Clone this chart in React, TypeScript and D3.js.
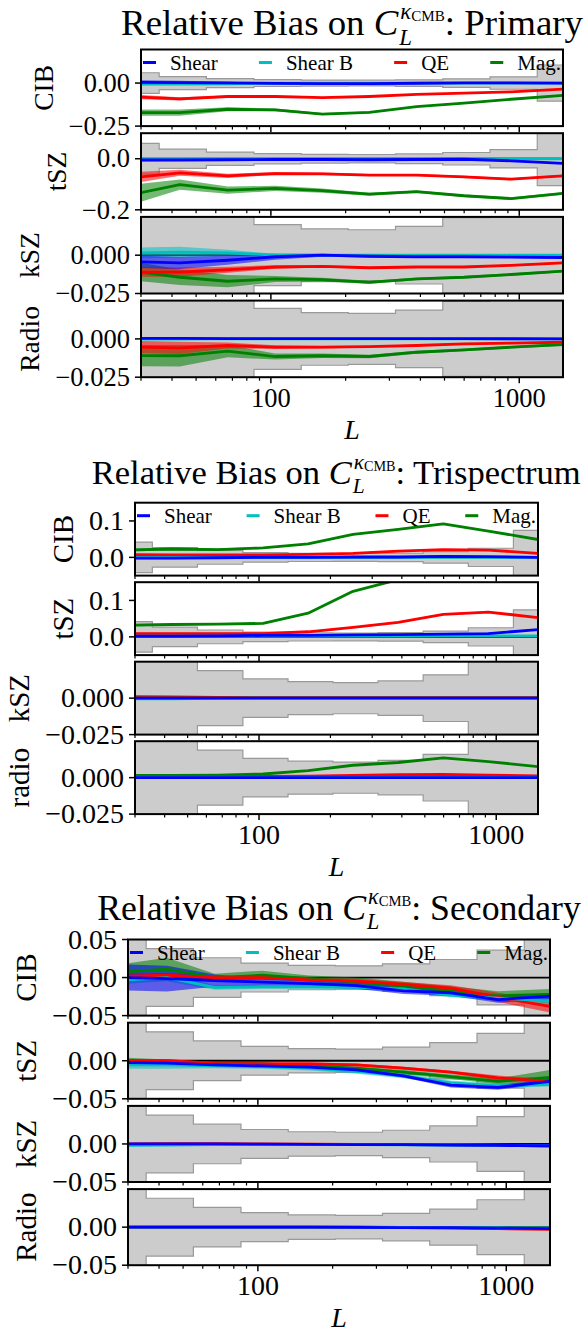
import React from "react";
import * as d3 from "d3";

// multipole bins
const L_CENTERS = [30, 43, 67, 104, 161, 249, 386, 598, 927, 1500];
const BIN_EDGES = [30, 35.5, 55, 85.5, 132.5, 205, 317.5, 492, 762.5, 1181.5, 1500];
const X_MAJOR = [100, 1000];
const X_MINOR = [30, 40, 50, 60, 70, 80, 90, 200, 300, 400, 500, 600, 700, 800, 900];

const ESTIMATORS = ["Shear", "Shear B", "QE", "Mag."];
const COLORS = ["#0000ff", "#00bfbf", "#ff0000", "#008000"];

// statistical error (grey band)
const SIGMA_PRIMARY = [0.06, 0.038, 0.026, 0.0199, 0.0172, 0.0166, 0.0188, 0.0245, 0.036, 0.105];
const SIGMA_TRISPECTRUM = [0.042, 0.027, 0.0189, 0.0132, 0.0113, 0.0107, 0.0118, 0.016, 0.025, 0.074];
const SIGMA_SECONDARY = [0.06, 0.038, 0.026, 0.019, 0.016, 0.0154, 0.018, 0.0237, 0.036, 0.105];

// rows: Shear, Shear B, QE, Mag.
const PRIMARY_CIB = [
  [0.004, 0.003, 0.001, -0.002, -0.003, -0.003, -0.001, 0.001, 0.001, 0.0],
  [-0.006, -0.006, -0.004, -0.001, 0.0, 0.0, 0.0, 0.0, 0.0, 0.0],
  [-0.082, -0.092, -0.078, -0.078, -0.084, -0.078, -0.066, -0.059, -0.051, -0.035],
  [-0.172, -0.172, -0.152, -0.156, -0.18, -0.17, -0.137, -0.117, -0.094, -0.072],
];
const PRIMARY_CIB_ERR = [
  [0.012, 0.01, 0.006, 0.004, 0.003, 0.003, 0.003, 0.003, 0.003, 0.003],
  [0.006, 0.005, 0.004, 0.003, 0.002, 0.002, 0.002, 0.002, 0.002, 0.002],
  [0.012, 0.01, 0.006, 0.004, 0.003, 0.003, 0.003, 0.003, 0.003, 0.003],
  [0.018, 0.018, 0.012, 0.008, 0.006, 0.005, 0.004, 0.004, 0.004, 0.004],
];
const PRIMARY_TSZ = [
  [-0.005, -0.005, -0.004, -0.003, -0.003, -0.004, -0.003, -0.002, -0.008, -0.018],
  [-0.002, -0.002, -0.001, 0.0, 0.0, 0.0, 0.0, 0.0, 0.0, 0.0],
  [-0.071, -0.055, -0.067, -0.058, -0.059, -0.064, -0.064, -0.071, -0.08, -0.067],
  [-0.133, -0.101, -0.123, -0.116, -0.125, -0.139, -0.129, -0.145, -0.156, -0.136],
];
const PRIMARY_TSZ_ERR = [
  [0.005, 0.004, 0.003, 0.003, 0.002, 0.002, 0.002, 0.002, 0.002, 0.003],
  [0.004, 0.003, 0.002, 0.002, 0.002, 0.002, 0.002, 0.002, 0.002, 0.002],
  [0.02, 0.012, 0.008, 0.006, 0.005, 0.004, 0.004, 0.004, 0.004, 0.004],
  [0.035, 0.02, 0.014, 0.01, 0.008, 0.006, 0.005, 0.005, 0.005, 0.005],
];
const PRIMARY_KSZ = [
  [-0.0044, -0.005, -0.0033, -0.001, 0.0, -0.0007, -0.001, -0.001, -0.0012, -0.0015],
  [0.0015, 0.002, 0.0015, 0.0, 0.0, 0.0, 0.0, 0.0, 0.0, 0.0],
  [-0.011, -0.011, -0.0095, -0.0077, -0.0073, -0.0082, -0.0077, -0.0077, -0.0066, -0.005],
  [-0.011, -0.0144, -0.017, -0.0155, -0.016, -0.0177, -0.0155, -0.0144, -0.0126, -0.0104],
];
const PRIMARY_KSZ_ERR = [
  [0.004, 0.004, 0.003, 0.002, 0.001, 0.0008, 0.0006, 0.0006, 0.0006, 0.0006],
  [0.0035, 0.0035, 0.002, 0.001, 0.0006, 0.0005, 0.0005, 0.0005, 0.0005, 0.0005],
  [0.003, 0.003, 0.002, 0.0012, 0.0008, 0.0007, 0.0006, 0.0006, 0.0006, 0.0006],
  [0.006, 0.005, 0.004, 0.002, 0.0012, 0.001, 0.0008, 0.0008, 0.0008, 0.0008],
];
const PRIMARY_RADIO = [
  [0.0003, 0.0003, 0.0002, 0.0002, 0.0002, 0.0002, 0.0002, 0.0002, 0.0001, 0.0],
  [0.0, 0.0, 0.0, 0.0, 0.0, 0.0, 0.0, 0.0, 0.0, 0.0],
  [-0.0054, -0.0059, -0.0043, -0.0054, -0.0054, -0.005, -0.0043, -0.0033, -0.0028, -0.0022],
  [-0.0109, -0.011, -0.008, -0.0115, -0.011, -0.0115, -0.0087, -0.0072, -0.0054, -0.0037],
];
const PRIMARY_RADIO_ERR = [
  [0.001, 0.001, 0.0006, 0.0004, 0.0003, 0.0003, 0.0003, 0.0003, 0.0003, 0.0003],
  [0.001, 0.001, 0.0006, 0.0004, 0.0003, 0.0003, 0.0003, 0.0003, 0.0003, 0.0003],
  [0.004, 0.004, 0.002, 0.0012, 0.0008, 0.0006, 0.0005, 0.0005, 0.0005, 0.0005],
  [0.007, 0.007, 0.004, 0.002, 0.0015, 0.0012, 0.001, 0.0008, 0.0008, 0.0008],
];

const TRI_CIB = [
  [-0.002, -0.002, -0.001, 0.0, 0.0, 0.001, 0.001, 0.003, 0.002, 0.0],
  [0.0, 0.0, 0.0, 0.0, 0.0, 0.0, 0.0, 0.0, 0.0, 0.0],
  [0.0075, 0.007, 0.007, 0.007, 0.008, 0.011, 0.017, 0.021, 0.02, 0.011],
  [0.0206, 0.023, 0.0215, 0.026, 0.037, 0.063, 0.077, 0.092, 0.072, 0.049],
];
const TRI_CIB_ERR = [
  [0.003, 0.003, 0.002, 0.002, 0.002, 0.002, 0.002, 0.002, 0.002, 0.002],
  [0.002, 0.002, 0.002, 0.002, 0.002, 0.002, 0.002, 0.002, 0.002, 0.002],
  [0.002, 0.002, 0.002, 0.002, 0.002, 0.002, 0.002, 0.002, 0.002, 0.002],
  [0.004, 0.004, 0.003, 0.002, 0.002, 0.002, 0.002, 0.002, 0.002, 0.002],
];
const TRI_TSZ = [
  [0.002, 0.002, 0.003, 0.004, 0.004, 0.0055, 0.006, 0.0074, 0.009, 0.02],
  [0.002, 0.002, 0.002, 0.002, 0.002, 0.002, 0.002, 0.003, 0.003, 0.003],
  [0.009, 0.009, 0.009, 0.009, 0.014, 0.026, 0.04, 0.062, 0.068, 0.053],
  [0.032, 0.034, 0.035, 0.037, 0.065, 0.125, 0.157, 0.2, 0.22, 0.2],
];
const TRI_TSZ_ERR = [
  [0.002, 0.002, 0.002, 0.002, 0.002, 0.002, 0.002, 0.002, 0.002, 0.002],
  [0.002, 0.002, 0.002, 0.002, 0.002, 0.002, 0.002, 0.002, 0.002, 0.002],
  [0.002, 0.002, 0.002, 0.002, 0.002, 0.002, 0.002, 0.002, 0.002, 0.002],
  [0.003, 0.003, 0.002, 0.002, 0.002, 0.002, 0.002, 0.002, 0.002, 0.002],
];
const TRI_KSZ = [
  [0.0, 0.0, 0.0, 0.0, 0.0, 0.0, 0.0, 0.0, 0.0, 0.0],
  [-0.0005, -0.0004, -0.0002, 0.0, 0.0, 0.0, 0.0, 0.0, 0.0, 0.0],
  [0.0003, 0.0003, 0.0003, 0.0003, 0.0003, 0.0003, 0.0003, 0.0003, 0.0003, 0.0003],
  [0.001, 0.0008, 0.0006, 0.0005, 0.0005, 0.0005, 0.0005, 0.0005, 0.0005, 0.0005],
];
const TRI_KSZ_ERR = [
  [0.0005, 0.0005, 0.0004, 0.0003, 0.0003, 0.0003, 0.0003, 0.0003, 0.0003, 0.0003],
  [0.0006, 0.0005, 0.0004, 0.0003, 0.0003, 0.0003, 0.0003, 0.0003, 0.0003, 0.0003],
  [0.0003, 0.0003, 0.0003, 0.0003, 0.0003, 0.0003, 0.0003, 0.0003, 0.0003, 0.0003],
  [0.0004, 0.0004, 0.0003, 0.0003, 0.0003, 0.0003, 0.0003, 0.0003, 0.0003, 0.0003],
];
const TRI_RADIO = [
  [0.0, 0.0, 0.0, 0.0, 0.0, 0.0, 0.0, 0.0, 0.0, 0.0],
  [0.0, 0.0, 0.0, 0.0, 0.0, 0.0, 0.0, 0.0, 0.0, 0.0],
  [0.0007, 0.0008, 0.0008, 0.0009, 0.0011, 0.0016, 0.002, 0.0023, 0.0018, 0.0012],
  [0.0016, 0.0016, 0.0018, 0.0025, 0.0048, 0.0085, 0.0104, 0.0135, 0.011, 0.0076],
];
const TRI_RADIO_ERR = [
  [0.0003, 0.0003, 0.0003, 0.0003, 0.0003, 0.0003, 0.0003, 0.0003, 0.0003, 0.0003],
  [0.0003, 0.0003, 0.0003, 0.0003, 0.0003, 0.0003, 0.0003, 0.0003, 0.0003, 0.0003],
  [0.0003, 0.0003, 0.0003, 0.0003, 0.0003, 0.0003, 0.0003, 0.0003, 0.0003, 0.0003],
  [0.0004, 0.0004, 0.0003, 0.0003, 0.0003, 0.0003, 0.0003, 0.0003, 0.0003, 0.0003],
];

const SEC_CIB = [
  [0.0, -0.0014, -0.004, -0.006, -0.008, -0.0106, -0.0175, -0.02, -0.029, -0.0245],
  [-0.003, 0.0, -0.013, -0.012, -0.012, -0.013, -0.015, -0.023, -0.027, -0.031],
  [0.002, 0.003, 0.0, 0.0, -0.003, -0.0046, -0.009, -0.014, -0.026, -0.038],
  [0.0078, 0.011, 0.0, 0.003, -0.0014, -0.006, -0.0115, -0.0175, -0.024, -0.022],
];
const SEC_CIB_ERR = [
  [0.017, 0.017, 0.008, 0.005, 0.004, 0.004, 0.004, 0.004, 0.004, 0.004],
  [0.005, 0.005, 0.003, 0.003, 0.003, 0.003, 0.003, 0.003, 0.003, 0.003],
  [0.003, 0.003, 0.002, 0.002, 0.002, 0.003, 0.003, 0.004, 0.006, 0.008],
  [0.011, 0.015, 0.005, 0.006, 0.004, 0.006, 0.006, 0.006, 0.006, 0.007],
];
const SEC_TSZ = [
  [-0.0025, -0.003, -0.0055, -0.0068, -0.0085, -0.012, -0.02, -0.032, -0.035, -0.027],
  [-0.0055, -0.0055, -0.0068, -0.0076, -0.0098, -0.014, -0.02, -0.029, -0.033, -0.031],
  [0.0, 0.0, -0.0034, -0.004, -0.004, -0.0055, -0.0098, -0.015, -0.0225, -0.027],
  [0.0, -0.0013, -0.0034, -0.004, -0.0068, -0.0098, -0.015, -0.021, -0.027, -0.022],
];
const SEC_TSZ_ERR = [
  [0.003, 0.003, 0.002, 0.002, 0.002, 0.002, 0.002, 0.003, 0.003, 0.003],
  [0.005, 0.005, 0.003, 0.003, 0.003, 0.003, 0.003, 0.003, 0.003, 0.003],
  [0.002, 0.002, 0.002, 0.002, 0.002, 0.002, 0.002, 0.002, 0.003, 0.003],
  [0.004, 0.003, 0.002, 0.002, 0.002, 0.002, 0.003, 0.003, 0.004, 0.01],
];
const SEC_KSZ = [
  [0.0, 0.0, 0.0, -0.0003, -0.0005, -0.0008, -0.001, -0.0015, -0.002, -0.0022],
  [-0.002, -0.0015, -0.001, -0.0008, -0.0008, -0.001, -0.0012, -0.0015, -0.002, -0.002],
  [0.0, 0.0003, 0.0003, 0.0, -0.0003, -0.0005, -0.0008, -0.001, -0.0015, -0.003],
  [-0.0005, -0.0005, -0.0005, -0.0005, -0.0005, -0.0008, -0.001, -0.0012, -0.0015, -0.002],
];
const SEC_KSZ_ERR = [
  [0.001, 0.001, 0.0008, 0.0006, 0.0006, 0.0006, 0.0006, 0.0006, 0.0006, 0.0006],
  [0.0012, 0.001, 0.0008, 0.0006, 0.0006, 0.0006, 0.0006, 0.0006, 0.0006, 0.0006],
  [0.0006, 0.0006, 0.0006, 0.0006, 0.0006, 0.0006, 0.0006, 0.0006, 0.0006, 0.0006],
  [0.0006, 0.0006, 0.0006, 0.0006, 0.0006, 0.0006, 0.0006, 0.0006, 0.0006, 0.0006],
];
const SEC_RADIO = [
  [0.0, 0.0, 0.0, 0.0, 0.0, -0.0003, -0.0005, -0.0008, -0.0012, -0.002],
  [0.0, 0.0, 0.0, 0.0, 0.0, 0.0, -0.0003, -0.0005, -0.0008, -0.001],
  [0.0, 0.0, 0.0, 0.0, 0.0, 0.0, -0.0005, -0.001, -0.002, -0.003],
  [0.0, 0.0, 0.0, 0.0, 0.0, 0.0, -0.0003, -0.0006, -0.001, -0.0015],
];
const SEC_RADIO_ERR = [
  [0.0006, 0.0006, 0.0005, 0.0005, 0.0005, 0.0005, 0.0005, 0.0005, 0.0005, 0.0005],
  [0.0006, 0.0006, 0.0005, 0.0005, 0.0005, 0.0005, 0.0005, 0.0005, 0.0005, 0.0005],
  [0.0005, 0.0005, 0.0005, 0.0005, 0.0005, 0.0005, 0.0005, 0.0005, 0.0005, 0.0005],
  [0.0005, 0.0005, 0.0005, 0.0005, 0.0005, 0.0005, 0.0005, 0.0005, 0.0005, 0.0005],
];

const FONT = "'Liberation Serif', 'DejaVu Serif', serif";
const LEGEND_FS = 21;

const FIGURES = [
  {
    title: "Primary", sigma: SIGMA_PRIMARY, tickFs: 26.5, titleW: 462,
    left: 141, right: 563, top: 49.5, rowH: 76.6, gap: 7.1, titleY: 35,
    rows: [
      { label: "CIB", ylim: [-0.25, 0.195], ticks: [-0.25, 0], fmt: ".2f", values: PRIMARY_CIB, errors: PRIMARY_CIB_ERR },
      { label: "tSZ", ylim: [-0.2, 0.1], ticks: [-0.2, 0], fmt: ".1f", values: PRIMARY_TSZ, errors: PRIMARY_TSZ_ERR },
      { label: "kSZ", ylim: [-0.025, 0.025], ticks: [-0.025, 0], fmt: ".3f", values: PRIMARY_KSZ, errors: PRIMARY_KSZ_ERR },
      { label: "Radio", ylim: [-0.025, 0.025], ticks: [-0.025, 0], fmt: ".3f", values: PRIMARY_RADIO, errors: PRIMARY_RADIO_ERR },
    ],
  },
  {
    title: "Trispectrum", sigma: SIGMA_TRISPECTRUM, tickFs: 28, titleW: 490,
    left: 135, right: 538, top: 502.7, rowH: 72.9, gap: 6.6, titleY: 484,
    rows: [
      { label: "CIB", ylim: [-0.05, 0.15], ticks: [0, 0.1], fmt: ".1f", values: TRI_CIB, errors: TRI_CIB_ERR },
      { label: "tSZ", ylim: [-0.05, 0.15], ticks: [0, 0.1], fmt: ".1f", values: TRI_TSZ, errors: TRI_TSZ_ERR },
      { label: "kSZ", ylim: [-0.025, 0.025], ticks: [-0.025, 0], fmt: ".3f", values: TRI_KSZ, errors: TRI_KSZ_ERR },
      { label: "radio", ylim: [-0.025, 0.025], ticks: [-0.025, 0], fmt: ".3f", values: TRI_RADIO, errors: TRI_RADIO_ERR },
    ],
  },
  {
    title: "Secondary", sigma: SIGMA_SECONDARY, tickFs: 28, titleW: 484,
    left: 128, right: 550, top: 939.5, rowH: 76.1, gap: 7.1, titleY: 920,
    rows: [
      { label: "CIB", ylim: [-0.05, 0.05], ticks: [-0.05, 0, 0.05], fmt: ".2f", values: SEC_CIB, errors: SEC_CIB_ERR },
      { label: "tSZ", ylim: [-0.05, 0.05], ticks: [-0.05, 0], fmt: ".2f", values: SEC_TSZ, errors: SEC_TSZ_ERR },
      { label: "kSZ", ylim: [-0.05, 0.05], ticks: [-0.05, 0], fmt: ".2f", values: SEC_KSZ, errors: SEC_KSZ_ERR },
      { label: "Radio", ylim: [-0.05, 0.05], ticks: [-0.05, 0], fmt: ".2f", values: SEC_RADIO, errors: SEC_RADIO_ERR },
    ],
  },
];

let ctx: CanvasRenderingContext2D | null = null;
function textWidth(s: string, size: number, style = "") {
  if (!ctx) ctx = document.createElement("canvas").getContext("2d");
  if (!ctx) return s.length * size * 0.5;
  ctx.font = `${style} ${size}px 'Liberation Serif'`;
  return ctx.measureText(s).width;
}

const Legend = ({ left, right, y }) => {
  const handleLen = 13;
  const textPad = 14;
  const pad = 2;
  const widths = ESTIMATORS.map((e) => handleLen + textPad + textWidth(e, LEGEND_FS));
  const gapW = (right - left - 2 * pad - d3.sum(widths)) / (ESTIMATORS.length - 1);
  let x = left + pad;
  return (
    <g>
      {ESTIMATORS.map((e, i) => {
        const x0 = x;
        x += widths[i] + gapW;
        return (
          <g key={e}>
            <line x1={x0} x2={x0 + handleLen} y1={y} y2={y} stroke={COLORS[i]} strokeWidth={3} />
            <text x={x0 + handleLen + textPad} y={y + 7} fontSize={LEGEND_FS} fontFamily={FONT}>{e}</text>
          </g>
        );
      })}
    </g>
  );
};

const Row = ({ fig, row, idx, fi }) => {
  const y0 = fig.top + idx * (fig.rowH + fig.gap);
  const y1 = y0 + fig.rowH;
  const x = d3.scaleLog().domain([30, 1500]).range([fig.left, fig.right]);
  const y = d3.scaleLinear().domain(row.ylim).range([y1, y0]);
  const clipId = `clip-${fi}-${idx}`;
  const tfs = fig.tickFs;

  const steps = BIN_EDGES.map((e, k) => ({ L: e, s: fig.sigma[Math.min(k, fig.sigma.length - 1)] }));
  const sigArea = d3.area<any>().x((d) => x(d.L)).y0((d) => y(-d.s)).y1((d) => y(d.s)).curve(d3.curveStepAfter);
  const sigTop = d3.line<any>().x((d) => x(d.L)).y((d) => y(d.s)).curve(d3.curveStepAfter);
  const sigBot = d3.line<any>().x((d) => x(d.L)).y((d) => y(-d.s)).curve(d3.curveStepAfter);

  const band = (vals, errs) =>
    d3.area<number>()
      .x((_, k) => x(L_CENTERS[k]))
      .y0((v, k) => y(v - errs[k]))
      .y1((v, k) => y(v + errs[k]))(vals);
  const line = d3.line<number>().x((_, k) => x(L_CENTERS[k])).y((v) => y(v));

  const fmt = d3.format(row.fmt);
  const labels = row.ticks.map((t) => fmt(t));
  const maxW = d3.max(labels, (s) => textWidth(s, tfs));
  const labelRight = fig.left - 11;
  const ylabelX = labelRight - maxW - 16;
  const isBottom = idx === fig.rows.length - 1;
  const order = [3, 2, 1, 0];

  return (
    <g>
      <defs>
        <clipPath id={clipId}>
          <rect x={fig.left} y={y0} width={fig.right - fig.left} height={fig.rowH} />
        </clipPath>
      </defs>
      <g clipPath={`url(#${clipId})`}>
        <path d={sigArea(steps)} fill="#cccccc" />
        <path d={sigTop(steps)} fill="none" stroke="#999999" strokeWidth={1.2} />
        <path d={sigBot(steps)} fill="none" stroke="#999999" strokeWidth={1.2} />
        <line x1={fig.left} x2={fig.right} y1={y(0)} y2={y(0)} stroke="#000" strokeWidth={1.8} />
        {order.map((s) => (
          <path key={"b" + s} d={band(row.values[s], row.errors[s])} fill={COLORS[s]} fillOpacity={0.55} />
        ))}
        {order.map((s) => (
          <path key={"l" + s} d={line(row.values[s])} fill="none" stroke={COLORS[s]} strokeWidth={2.8} strokeLinejoin="round" />
        ))}
      </g>
      {/* x ticks */}
      {X_MINOR.map((t) => (
        <line key={"mi" + t} x1={x(t)} x2={x(t)} y1={y1} y2={y1 + 3.5} stroke="#000" strokeWidth={1.2} />
      ))}
      {X_MAJOR.map((t) => (
        <line key={"ma" + t} x1={x(t)} x2={x(t)} y1={y1} y2={y1 + 6} stroke="#000" strokeWidth={1.5} />
      ))}
      {isBottom &&
        X_MAJOR.map((t) => (
          <text key={"xl" + t} x={x(t)} y={y1 + 30} textAnchor="middle" fontSize={tfs} fontFamily={FONT}>{t}</text>
        ))}
      {/* y ticks */}
      {row.ticks.map((t, k) => (
        <g key={"yt" + k}>
          <line x1={fig.left - 6} x2={fig.left} y1={y(t)} y2={y(t)} stroke="#000" strokeWidth={1.5} />
          <text x={labelRight} y={y(t) + tfs * 0.33} textAnchor="end" fontSize={tfs} fontFamily={FONT}>{labels[k]}</text>
        </g>
      ))}
      <text
        transform={`translate(${ylabelX},${(y0 + y1) / 2}) rotate(-90)`}
        textAnchor="middle"
        fontSize={tfs + 1}
        fontFamily={FONT}
      >
        {row.label}
      </text>
      <rect x={fig.left} y={y0} width={fig.right - fig.left} height={fig.rowH} fill="none" stroke="#000" strokeWidth={2} />
      {idx === 0 && <Legend left={fig.left} right={fig.right} y={y0 + 13} />}
    </g>
  );
};

// title: "Relative Bias on C_L^{kappa_CMB}: <name>", scaled to the given width
const Title = ({ cx, y, name, width }) => {
  const head = "Relative Bias on ";
  const tail = ": " + name;
  const measure = (fs) => {
    const sfs = fs * 0.62;
    const ssfs = fs * 0.41;
    const wHead = textWidth(head, fs);
    const wC = textWidth("C", fs, "italic");
    const wL = textWidth("L", sfs, "italic");
    const wK = textWidth("κ", sfs, "italic");
    const wCMB = textWidth("CMB", ssfs);
    const wScript = Math.max(wL, wK + wCMB) + 1;
    const wTail = textWidth(tail, fs);
    return { fs, sfs, ssfs, wHead, wC, wK, wScript, total: wHead + wC + 1 + wScript + wTail };
  };
  const base = measure(34);
  const m = measure((34 * width) / base.total);
  const k = m.fs / 34;
  const x0 = cx - m.total / 2;
  const xs = x0 + m.wHead + m.wC + 1;
  return (
    <g fontFamily={FONT}>
      <text x={x0} y={y} fontSize={m.fs}>{head}</text>
      <text x={x0 + m.wHead} y={y} fontSize={m.fs} fontStyle="italic">C</text>
      <text x={xs} y={y + 9 * k} fontSize={m.sfs} fontStyle="italic">L</text>
      <text x={xs + 1} y={y - 15 * k} fontSize={m.sfs} fontStyle="italic">κ</text>
      <text x={xs + 1 + m.wK} y={y - 13 * k} fontSize={m.ssfs}>CMB</text>
      <text x={xs + m.wScript} y={y} fontSize={m.fs}>{tail}</text>
    </g>
  );
};

const Figure = ({ fig, fi }) => {
  const cx = (fig.left + fig.right) / 2;
  const bottom = fig.top + fig.rows.length * fig.rowH + (fig.rows.length - 1) * fig.gap;
  return (
    <g>
      <Title cx={cx} y={fig.titleY} name={fig.title} width={fig.titleW} />
      {fig.rows.map((row, idx) => (
        <Row key={row.label} fig={fig} row={row} idx={idx} fi={fi} />
      ))}
      <text x={cx} y={bottom + 62} textAnchor="middle" fontSize={28} fontStyle="italic" fontFamily={FONT}>L</text>
    </g>
  );
};

export default function App() {
  return (
    <svg width={585} height={1332} style={{ position: "absolute", left: 0, top: 0, background: "#fff" }}>
      <rect width={585} height={1332} fill="#fff" />
      {FIGURES.map((fig, fi) => (
        <Figure key={fig.title} fig={fig} fi={fi} />
      ))}
    </svg>
  );
}
